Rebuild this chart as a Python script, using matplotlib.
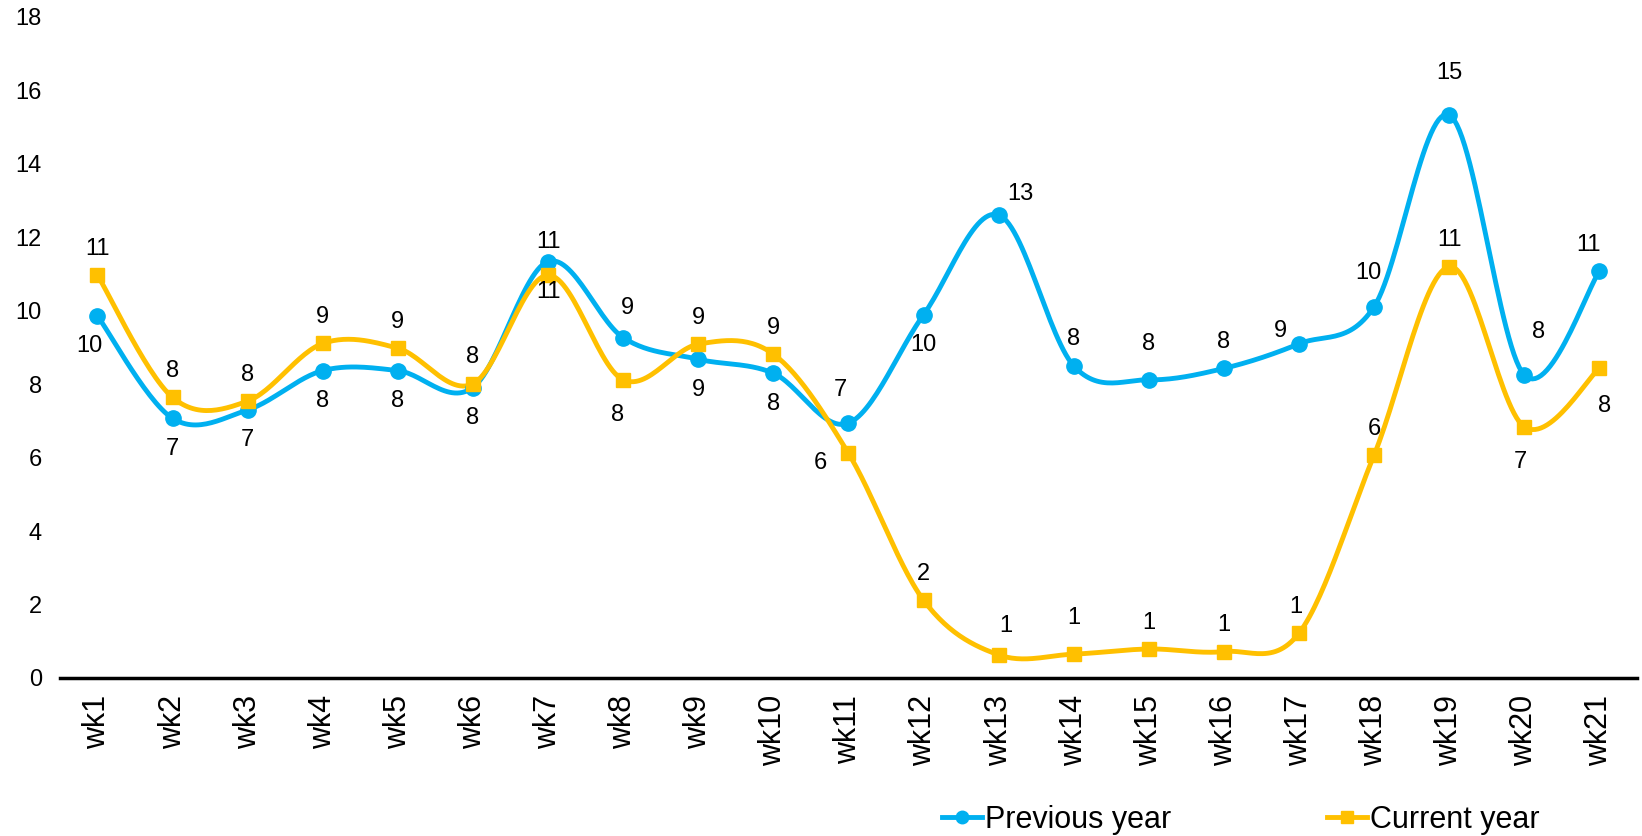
import numpy as np
import matplotlib.pyplot as plt
from matplotlib.lines import Line2D

plt.rcParams['font.family'] = ['Liberation Sans', 'DejaVu Sans']

# data
weeks = ['wk%d' % i for i in range(1, 22)]
prev_year = [9.86, 7.07, 7.30, 8.37, 8.37, 7.91, 11.34, 9.27, 8.68, 8.30, 6.94,
             9.89, 12.61, 8.50, 8.12, 8.43, 9.10, 10.11, 15.33, 8.25, 11.07]
curr_year = [10.97, 7.64, 7.54, 9.11, 8.98, 8.01, 10.97, 8.12, 9.09, 8.82, 6.12,
             2.12, 0.63, 0.65, 0.79, 0.72, 1.22, 6.07, 11.20, 6.84, 8.43]
y_ticks = [0, 2, 4, 6, 8, 10, 12, 14, 16, 18]

BLUE = '#00B0F0'
ORANGE = '#FFC000'

# label offsets in points (dx, dy), like excel's above / below / left / right
UP, DN = (0, 19), (0, -22)
prev_pos = [(-6, -22), DN, DN, DN, DN, DN, (0, 14), (3, 21), DN, DN, (-6, 24),
            DN, (16, 15), UP, (0, 26), UP, (-13, 9), (-4, 24), (0, 30), (10, 31), (-8, 19)]
curr_pos = [UP, UP, UP, UP, UP, UP, (0, -12), (-4, -25), UP, UP, (-20, -7),
            UP, (5, 21), (0, 26), UP, UP, (-2, 19), UP, UP, (-3, -25), (4, -27)]


def smooth(x, y, n=30):
    # catmull-rom through the points, similar to excel's smoothed line
    x = np.asarray(x, float)
    y = np.asarray(y, float)
    px = np.concatenate([[x[0]], x, [x[-1]]])
    py = np.concatenate([[y[0]], y, [y[-1]]])
    xs, ys = [], []
    t = np.linspace(0, 1, n)
    for i in range(1, len(px) - 2):
        b0 = np.array([px[i], py[i]])
        b3 = np.array([px[i + 1], py[i + 1]])
        b1 = b0 + (np.array([px[i + 1], py[i + 1]]) - np.array([px[i - 1], py[i - 1]])) / 6
        b2 = b3 - (np.array([px[i + 2], py[i + 2]]) - np.array([px[i], py[i]])) / 6
        pts = ((1 - t) ** 3)[:, None] * b0 + (3 * (1 - t) ** 2 * t)[:, None] * b1 \
            + (3 * (1 - t) * t ** 2)[:, None] * b2 + (t ** 3)[:, None] * b3
        xs.append(pts[:, 0])
        ys.append(pts[:, 1])
    return np.concatenate(xs), np.concatenate(ys)


fig = plt.figure(figsize=(16.42, 8.36), dpi=100)
ax = fig.add_axes([0.0365, 0.189, 0.9604, 0.7907])

x = np.arange(len(weeks))
for vals, col, mk, ms, pos in [(prev_year, BLUE, 'o', 11, prev_pos),
                               (curr_year, ORANGE, 's', 10, curr_pos)]:
    sx, sy = smooth(x, vals)
    ax.plot(sx, sy, color=col, lw=3.5, solid_capstyle='round', zorder=2)
    ax.plot(x, vals, linestyle='none', marker=mk, ms=ms, color=col, zorder=3)
    for xi, v, (dx, dy) in zip(x, vals, pos):
        ax.annotate('%d' % round(v), (xi, v), xytext=(dx, dy), textcoords='offset points',
                    ha='center', va='center', fontsize=17, color='black', zorder=4)

ax.set_xlim(-0.5, len(weeks) - 0.5)
ax.set_ylim(0, 18)
ax.set_yticks(y_ticks)
ax.set_xticks(x)
ax.set_xticklabels(weeks, rotation=90, fontsize=22)
ax.tick_params(axis='y', length=0, pad=13, labelsize=17)
ax.tick_params(axis='x', length=0, pad=12)
for s in ['top', 'right', 'left']:
    ax.spines[s].set_visible(False)
ax.spines['bottom'].set_linewidth(2.5)
ax.spines['bottom'].set_color('black')

handles = [Line2D([], [], color=BLUE, lw=3.5, marker='o', ms=9),
           Line2D([], [], color=ORANGE, lw=3.5, marker='s', ms=8)]
fig.legend(handles, ['Previous year', 'Current year'], loc='center left',
           bbox_to_anchor=(0.5737, 0.019), ncol=2, frameon=False, fontsize=22,
           handlelength=1.3, handletextpad=0.1, columnspacing=5.1,
           borderpad=0, borderaxespad=0)

fig.savefig('out.png', dpi=100)
